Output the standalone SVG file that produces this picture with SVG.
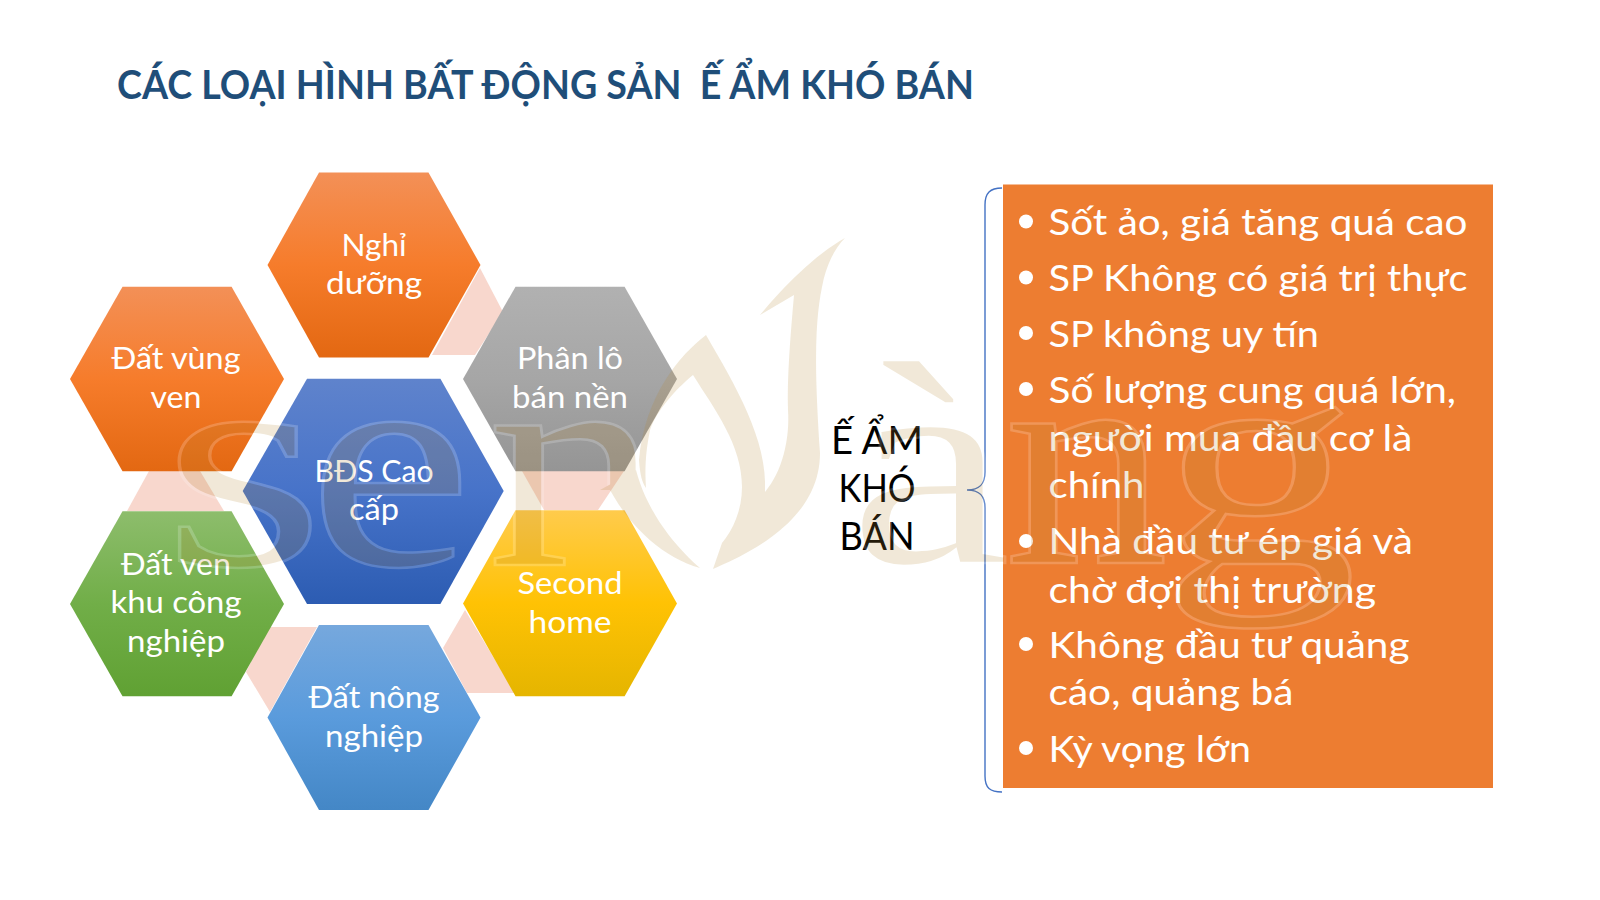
<svg xmlns="http://www.w3.org/2000/svg" width="1600" height="900" viewBox="0 0 1600 900">
<style>
text{font-family:"Lato","Noto Sans",sans-serif}
.t{font-size:31px;fill:#fff;text-anchor:middle}
.b{font-size:37.5px;fill:#fff}
.k{font-size:38px;fill:#000;text-anchor:middle}
.title{font-size:40px;font-weight:700;fill:#1F4E79}
.wm text{font-family:"Liberation Serif",serif;font-size:304px;fill:#B48A38;stroke:#fff;stroke-width:2.5}
.wm path{fill:#B48A38}
</style>
<defs>
<linearGradient id="gO" x1="0" y1="0" x2="0" y2="1"><stop offset="0" stop-color="#F39057"/><stop offset=".5" stop-color="#F67C2B"/><stop offset="1" stop-color="#E36812"/></linearGradient>
<linearGradient id="gG" x1="0" y1="0" x2="0" y2="1"><stop offset="0" stop-color="#B1B1B1"/><stop offset=".5" stop-color="#A6A6A6"/><stop offset="1" stop-color="#959595"/></linearGradient>
<linearGradient id="gB" x1="0" y1="0" x2="0" y2="1"><stop offset="0" stop-color="#5F83CC"/><stop offset=".5" stop-color="#4773C9"/><stop offset="1" stop-color="#2C5CB2"/></linearGradient>
<linearGradient id="gV" x1="0" y1="0" x2="0" y2="1"><stop offset="0" stop-color="#8DBD6C"/><stop offset=".5" stop-color="#71AE48"/><stop offset="1" stop-color="#60A133"/></linearGradient>
<linearGradient id="gY" x1="0" y1="0" x2="0" y2="1"><stop offset="0" stop-color="#FFCB4C"/><stop offset=".5" stop-color="#FFC204"/><stop offset="1" stop-color="#E5B500"/></linearGradient>
<linearGradient id="gL" x1="0" y1="0" x2="0" y2="1"><stop offset="0" stop-color="#76A8DD"/><stop offset=".5" stop-color="#5A9BDC"/><stop offset="1" stop-color="#4487C6"/></linearGradient>
<clipPath id="nc"><path d="M470,380H700V490H585V580H470Z"/></clipPath>
</defs>
<rect width="1600" height="900" fill="#fff"/>
<text class="title" x="117" y="99" textLength="857" lengthAdjust="spacingAndGlyphs" xml:space="preserve">CÁC LOẠI HÌNH BẤT ĐỘNG SẢN  Ế ẨM KHÓ BÁN</text>
<g id="connectors">
<g fill="#F8D7CD">
<polygon points="480,268 503,312 475,355 432,355"/>
<polygon points="149,471 200,471 224,511 127,511"/>
<polygon points="522,471 624,471 598,510 544,510"/>
<polygon points="268,627 317,627 270,712 246,672"/>
<polygon points="465,610 443,648 467,693 515,693"/>
</g>
<path d="M1002,188 C990,188 985,193 985,205 V472 C985,484 980,490 967,490 C980,490 985,496 985,508 V776 C985,788 990,792 1002,792" fill="none" stroke="#4472C4" stroke-width="1.4"/>
</g>
<g id="node-nghi">
<polygon points="267.5,265 319,172.5 428.5,172.5 480.5,265 428.5,357.5 319,357.5" fill="url(#gO)"/>
<text class="t" x="374" y="256" textLength="65" lengthAdjust="spacingAndGlyphs">Nghỉ</text>
<text class="t" x="374" y="294" textLength="96" lengthAdjust="spacingAndGlyphs">dưỡng</text>
</g>
<g id="node-dat-vung-ven">
<polygon points="70,379 122.5,286.7 231.6,286.7 284,379 231.6,471.3 122.5,471.3" fill="url(#gO)"/>
<text class="t" x="176" y="369" textLength="129" lengthAdjust="spacingAndGlyphs">Đất vùng</text>
<text class="t" x="176" y="408" textLength="51" lengthAdjust="spacingAndGlyphs">ven</text>
</g>
<g id="node-phan-lo">
<polygon points="463,379 515.5,286.7 624.6,286.7 677,379 624.6,471.3 515.5,471.3" fill="url(#gG)"/>
<text class="t" x="570" y="369" textLength="106" lengthAdjust="spacingAndGlyphs">Phân lô</text>
<text class="t" x="570" y="408" textLength="116" lengthAdjust="spacingAndGlyphs">bán nền</text>
</g>
<g id="node-bds-cao-cap">
<polygon points="242.7,491 307,378.7 440.4,378.7 503.7,491 440.4,604 307,604" fill="url(#gB)"/>
<text class="t" x="374" y="481.5" textLength="119" lengthAdjust="spacingAndGlyphs">BĐS Cao</text>
<text class="t" x="374" y="520" textLength="50" lengthAdjust="spacingAndGlyphs">cấp</text>
</g>
<g id="node-dat-ven-kcn">
<polygon points="70,604 122.5,511.3 231.6,511.3 284,604 231.6,696.3 122.5,696.3" fill="url(#gV)"/>
<text class="t" x="176" y="574.5" textLength="110" lengthAdjust="spacingAndGlyphs">Đất ven</text>
<text class="t" x="176" y="613" textLength="131" lengthAdjust="spacingAndGlyphs">khu công</text>
<text class="t" x="176" y="652" textLength="98" lengthAdjust="spacingAndGlyphs">nghiệp</text>
</g>
<g id="node-second-home">
<polygon points="463,603.5 515.5,510.3 624.6,510.3 677,603.5 624.6,696.3 515.5,696.3" fill="url(#gY)"/>
<text class="t" x="570" y="594" textLength="105" lengthAdjust="spacingAndGlyphs">Second</text>
<text class="t" x="570" y="632.5" textLength="83" lengthAdjust="spacingAndGlyphs">home</text>
</g>
<g id="node-dat-nong-nghiep">
<polygon points="267.5,717.5 319,625 428.5,625 480.5,717.5 428.5,810 319,810" fill="url(#gL)"/>
<text class="t" x="374" y="707.5" textLength="131" lengthAdjust="spacingAndGlyphs">Đất nông</text>
<text class="t" x="374" y="746.5" textLength="98" lengthAdjust="spacingAndGlyphs">nghiệp</text>
</g>
<g id="node-label">
<text class="k" x="877" y="454" textLength="92" lengthAdjust="spacingAndGlyphs">Ế ẨM</text>
<text class="k" x="877" y="502" textLength="77" lengthAdjust="spacingAndGlyphs">KHÓ</text>
<text class="k" x="877" y="550" textLength="75" lengthAdjust="spacingAndGlyphs">BÁN</text>
</g>
<g id="node-list">
<rect x="1003" y="184.5" width="490" height="603.5" fill="#ED7D31"/>
<g fill="#fff">
<circle cx="1026" cy="221.5" r="7"/><circle cx="1026" cy="277.5" r="7"/><circle cx="1026" cy="333" r="7"/><circle cx="1026" cy="389" r="7"/><circle cx="1026" cy="541" r="7"/><circle cx="1026" cy="644" r="7"/><circle cx="1026" cy="748" r="7"/>
</g>
<text class="b" x="1048.5" y="234.5" textLength="419" lengthAdjust="spacingAndGlyphs">Sốt ảo, giá tăng quá cao</text>
<text class="b" x="1048.5" y="291" textLength="419" lengthAdjust="spacingAndGlyphs">SP Không có giá trị thực</text>
<text class="b" x="1048.5" y="346.5" textLength="270.5" lengthAdjust="spacingAndGlyphs">SP không uy tín</text>
<text class="b" x="1048.5" y="402.5" textLength="407.5" lengthAdjust="spacingAndGlyphs">Số lượng cung quá lớn,</text>
<text class="b" x="1048.5" y="450.5" textLength="364" lengthAdjust="spacingAndGlyphs">người mua đầu cơ là</text>
<text class="b" x="1048.5" y="498" textLength="96" lengthAdjust="spacingAndGlyphs">chính</text>
<text class="b" x="1048.5" y="554" textLength="364.5" lengthAdjust="spacingAndGlyphs">Nhà đầu tư ép giá và</text>
<text class="b" x="1048.5" y="602.5" textLength="327.5" lengthAdjust="spacingAndGlyphs">chờ đợi thị trường</text>
<text class="b" x="1048.5" y="657.5" textLength="361" lengthAdjust="spacingAndGlyphs">Không đầu tư quảng</text>
<text class="b" x="1048.5" y="705" textLength="245" lengthAdjust="spacingAndGlyphs">cáo, quảng bá</text>
<text class="b" x="1048.5" y="761.5" textLength="202.5" lengthAdjust="spacingAndGlyphs">Kỳ vọng lớn</text>
</g>
<g class="wm" opacity=".195">
<text transform="translate(162,565) scale(1.38,1)">s</text>
<text transform="translate(308,565) scale(1.22,1)">e</text>
<g clip-path="url(#nc)"><text transform="translate(487,565) scale(1.15,1)">n</text></g>
<path d="M600,490 L636,470 C645,505 668,540 700,568 C665,558 632,530 610,490 Z"/>
<path d="M706,335 C680,355 645,395 639,460 C640,475 642,482 646,488 C645,470 645,455 650,430 C657,410 675,390 693,375 C715,410 742,445 742,487 C742,510 733,530 722,543 L713,569 C770,545 820,510 820,453 C816,390 813,330 822,287 C826,265 835,248 845,238 C815,255 785,285 760,315 L794,295 C790,340 787,380 788,410 C790,440 782,472 765,492 C768,440 735,385 706,335 Z"/>
<text transform="translate(848,563) scale(1.2,.96)">à</text>
<text transform="translate(1004,563) scale(1.08,1)">n</text>
<text transform="translate(1160,563) scale(1.3,1)">g</text>
</g>
</svg>
